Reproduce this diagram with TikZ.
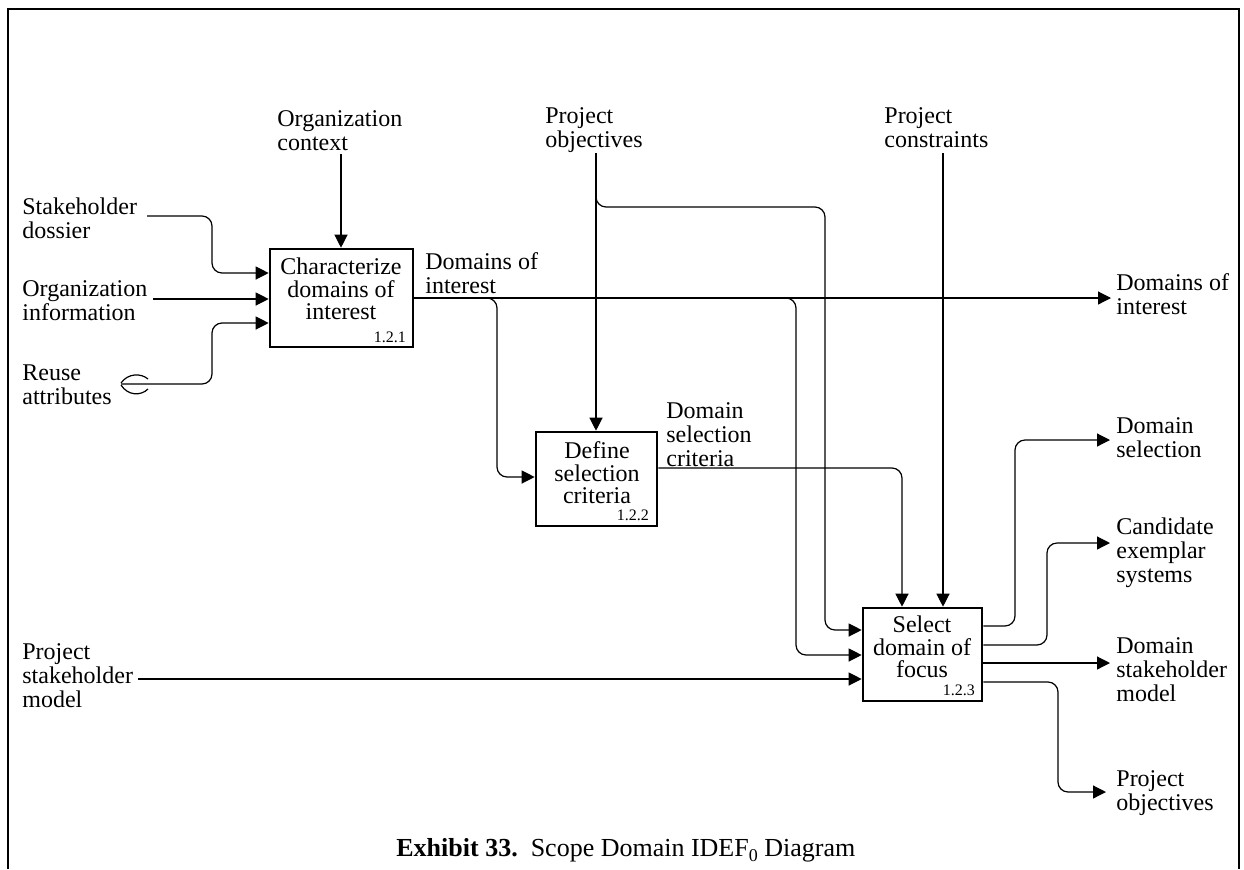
\documentclass[tikz,border=0pt]{standalone}
\usepackage{fontspec}
\setmainfont{Liberation Serif}
\usetikzlibrary{arrows.meta}
\begin{document}
\begin{tikzpicture}[x=0.5pt,y=-0.5pt,
  proc/.style={draw, line width=1.3pt, inner sep=0pt},
  flow/.style={line width=0.6pt, rounded corners=5pt},
  arr/.style={flow, -{Triangle[length=6.5pt,width=6.5pt]}},
  lbl/.style={inner sep=0pt, align=left, anchor=north west, font=\fontsize{12}{12}\selectfont},
  boxtext/.style={inner sep=0pt, align=center, font=\fontsize{12}{11.3}\selectfont},
  num/.style={inner sep=0pt, anchor=south east, font=\fontsize{8}{8}\selectfont},
]
\useasboundingbox (0,0) rectangle (1244,869);

% frame (open at the bottom)
\draw[line width=0.6pt] (8,869) -- (8,9) -- (1239,9) -- (1239,869);

% activity boxes
\node[proc, minimum width=71.5pt, minimum height=49pt] (b1) at (341.5,298) {};
\node[proc, minimum width=60.5pt, minimum height=47pt] (b2) at (596.5,479) {};
\node[proc, minimum width=59.5pt, minimum height=46.5pt] (b3) at (922.5,654.5) {};

\node[boxtext] (t1) at (341,289) {Characterize\\domains of\\interest};
\node[boxtext] (t2) at (597,473) {Define\\selection\\criteria};
\node[boxtext] (t3) at (922,647) {Select\\domain of\\focus};

\node[num] (n1) at ([xshift=-4pt,yshift=2.5pt]b1.south east) {1.2.1};
\node[num] (n2) at ([xshift=-4.5pt,yshift=3pt]b2.south east) {1.2.2};
\node[num] (n3) at ([xshift=-4pt,yshift=3pt]b3.south east) {1.2.3};

% arrow labels
\node[lbl] (l-oc) at (277,110) {Organization\\context};
\node[lbl] (l-sd) at (22,197) {Stakeholder\\dossier};
\node[lbl] (l-oi) at (22,280) {Organization\\information};
\node[lbl] (l-ra) at (22,364) {Reuse\\attributes};
\node[lbl] (l-di) at (425,252) {Domains of\\interest};
\node[lbl] (l-dsc) at (666,402) {Domain\\selection\\criteria};
\node[lbl] (l-po) at (545,107) {Project\\objectives};
\node[lbl] (l-pc) at (884,107) {Project\\constraints};
\node[lbl] (l-psm) at (22,643) {Project\\stakeholder\\model};
\node[lbl] (o-di) at (1116,273) {Domains of\\interest};
\node[lbl] (o-ds) at (1116,417) {Domain\\selection};
\node[lbl] (o-ces) at (1116,517) {Candidate\\exemplar\\systems};
\node[lbl] (o-dsm) at (1116,637) {Domain\\stakeholder\\model};
\node[lbl] (o-po) at (1116,770) {Project\\objectives};

% free ends of boundary arrows
\coordinate (s-oc) at (341,154);
\coordinate (s-sd) at (147,216);
\coordinate (s-oi) at (153,299);
\coordinate (s-ra) at (121,384);
\coordinate (s-po) at (596,153);
\coordinate (s-pc) at (943,153);
\coordinate (s-psm) at (138,679);

% inputs and control of box 1
\draw[arr] (s-oc) -- (s-oc |- b1.north);
\draw[arr] (s-sd) -- (212,216) -- (212,273) -- (b1.west |- 0,273);
\draw[arr] (s-oi) -- (s-oi -| b1.west);
\draw[arr] (s-ra) -- (212,384) -- (212,323) -- (b1.west |- 0,323);
% tunnel mark on the reuse attributes arrow
\draw[line width=0.6pt] (121,383) .. controls (128,373) and (141,373) .. (148,379);
\draw[line width=0.6pt] (121,385) .. controls (128,396) and (141,396) .. (148,389);

% domains of interest output and its branches
\draw[arr, shorten >=2.5pt] (b1.east |- 0,298) -- (o-di.west |- 0,298);
\draw[arr] (480,298) -- (497,298) -- (497,477) -- (b2.west |- 0,477);
\draw[arr] (780,298) -- (796,298) -- (796,655) -- (b3.west |- 0,655);

% project objectives control
\draw[arr] (s-po) -- (s-po |- b2.north);
\draw[arr] (596,188) -- (596,207) -- (825,207) -- (825,630) -- (b3.west |- 0,630);

% project constraints control
\draw[arr] (s-pc) -- (s-pc |- b3.north);

% domain selection criteria
\draw[arr] (b2.east |- 0,468) -- (902,468) -- (b3.north -| 902,0);

% project stakeholder model
\draw[arr] (s-psm) -- (s-psm -| b3.west);

% outputs of box 3
\draw[arr, shorten >=3pt] (b3.east |- 0,626) -- (1015,626) -- (1015,440) -- (o-ds.west |- 0,440);
\draw[arr, shorten >=3pt] (b3.east |- 0,645) -- (1047,645) -- (1047,543) -- (o-ces.west |- 0,543);
\draw[arr, shorten >=3pt] (b3.east |- 0,663) -- (o-dsm.west |- 0,663);
\draw[arr, shorten >=5pt] (b3.east |- 0,682) -- (1058,682) -- (1058,792) -- (o-po.west |- 0,792);

% caption
\node[inner sep=0pt, anchor=base west, font=\fontsize{13}{13}\selectfont] (cap) at (396,856)
  {\textbf{Exhibit 33.}\ \ Scope Domain IDEF\raisebox{-0.45ex}{\fontsize{9}{9}\selectfont 0} Diagram};
\end{tikzpicture}
\end{document}
